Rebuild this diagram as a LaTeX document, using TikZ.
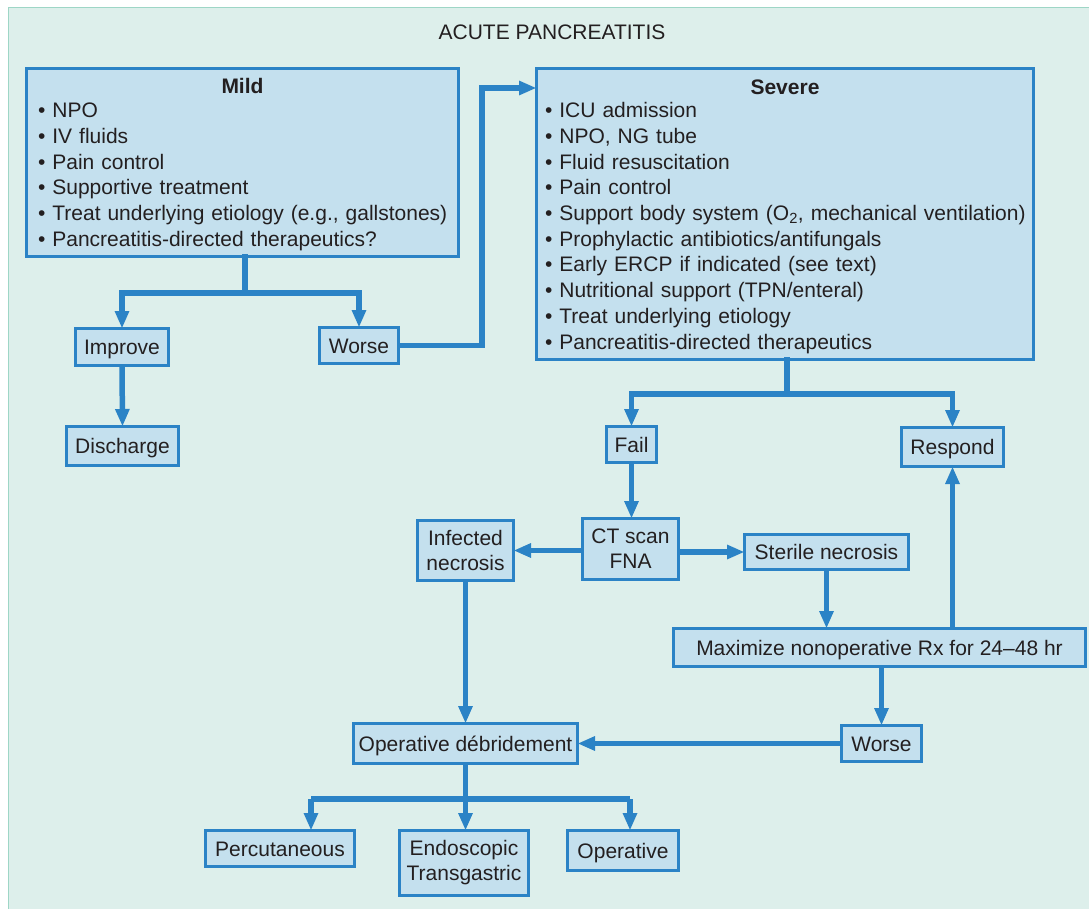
\documentclass[tikz,border=0pt]{standalone}
\usepackage{fontspec}
\setmainfont{Liberation Sans}
\usetikzlibrary{arrows.meta}
\definecolor{panelbg}{HTML}{DDEFEB}
\definecolor{panelline}{HTML}{9ED6C6}
\definecolor{boxfill}{HTML}{C4E0EE}
\definecolor{flow}{HTML}{2B83C6}
\definecolor{ink}{HTML}{231F20}
% one unbreakable bullet line
\newcommand{\bul}[1]{\mbox{• #1}}

\begin{document}
\begin{tikzpicture}[x=1pt,y=-1pt,
  txt/.style={font=\fontsize{21}{25}\selectfont, text=ink},
  box/.style={txt, draw=flow, line width=3pt, fill=boxfill, inner sep=0pt,
    outer sep=0pt, align=center},
  onebox/.style={box, text height=18pt, text depth=3pt},
  bigbox/.style={box, font=\fontsize{21}{25.7}\selectfont, align=left,
    anchor=north west},
  link/.style={draw=flow, line width=5.5pt},
  arr/.style={link, -{Triangle[width=13.5pt,length=17.5pt]}},
]
\useasboundingbox (0,0) rectangle (1089,909);
\clip (0,0) rectangle (1089,909);
\fill[white] (0,0) rectangle (1089,909);
% tinted panel behind the whole chart
\draw[panelline, line width=1.5pt, fill=panelbg] (8.5,7.5) rectangle (1100,920);

\node[txt] (title) at (552,32) {ACUTE PANCREATITIS};

% treatment boxes
\node[bigbox, text width=409pt, inner xsep=11.5pt, minimum height=188pt]
  (mild) at (26.5,68.5) {%
  \makebox[\linewidth]{\rule{0pt}{19.5pt}\textbf{Mild}}\\[-2pt]
  \bul{NPO}\\
  \bul{IV fluids}\\
  \bul{Pain control}\\
  \bul{Supportive treatment}\\
  \bul{Treat underlying etiology (e.g., gallstones)}\\
  \bul{Pancreatitis-directed therapeutics?}};

\node[bigbox, text width=480pt, inner xsep=8.5pt, minimum height=291pt]
  (severe) at (536.5,68.5) {%
  \makebox[\linewidth]{\rule{0pt}{19.5pt}\textbf{Severe}}\\[-2pt]
  \bul{ICU admission}\\
  \bul{NPO, NG tube}\\
  \bul{Fluid resuscitation}\\
  \bul{Pain control}\\
  \bul{Support body system (O\textsubscript{2}, mechanical ventilation)}\\
  \bul{Prophylactic antibiotics/antifungals}\\
  \bul{Early ERCP if indicated (see text)}\\
  \bul{Nutritional support (TPN/enteral)}\\
  \bul{Treat underlying etiology}\\
  \bul{Pancreatitis-directed therapeutics}};

% outcome boxes
\node[onebox, minimum width=93pt,  minimum height=37pt] (improve)  at (122,347)     {Improve};
\node[onebox, minimum width=79pt,  minimum height=36pt] (worseA)   at (359,345.5)   {Worse};
\node[onebox, minimum width=112pt, minimum height=39pt] (discharge) at (122.5,446)  {Discharge};
\node[onebox, minimum width=50pt,  minimum height=36pt] (fail)     at (631.5,444.5) {Fail};
\node[onebox, minimum width=102pt, minimum height=39pt] (respond)  at (952.5,447)   {Respond};
\node[box,    minimum width=96pt,  minimum height=61pt] (ct)       at (630.5,549)   {CT scan\\FNA};
\node[onebox, minimum width=164pt, minimum height=35pt] (sterile)  at (826.5,552)   {Sterile necrosis};
\node[box,    minimum width=96pt,  minimum height=60pt] (infected) at (465.5,550.5) {Infected\\necrosis};
\node[onebox, minimum width=412pt, minimum height=38pt] (maxrx)    at (879.5,647.5) {Maximize nonoperative Rx for 24–48 hr};
\node[onebox, minimum width=80pt,  minimum height=36pt] (worseB)   at (881.5,743.5) {Worse};
\node[onebox, minimum width=224pt, minimum height=40pt] (opdeb)    at (465.5,743.5) {Operative débridement};
\node[onebox, minimum width=149pt, minimum height=36pt] (perc)     at (280,848.5)   {Percutaneous};
\node[box,    minimum width=129pt, minimum height=65pt] (endo)     at (464,863)     {Endoscopic\\Transgastric};
\node[onebox, minimum width=111pt, minimum height=40pt] (operative) at (623,850.5)  {Operative};

% junction points
\coordinate (jm) at (245,293);
\coordinate (jw) at (482,88);
\coordinate (js) at (787,394);
\coordinate (bp) at (311,799);
\coordinate (bo) at (630,799);

% mild branch
\draw[link, line cap=rect] (mild.south -| jm) -- (jm);
\draw[arr] (jm) -| (improve.north);
\draw[arr] (jm) -| (worseA.north);
\draw[arr] (improve.south) -- (discharge.north);
\draw[arr] (worseA.east) -| (jw) -- (jw -| severe.west);

% severe branch
\draw[link, line cap=rect] (severe.south -| js) -- (js);
\draw[arr] (js) -| (fail.north);
\draw[arr] (js) -| (respond.north);
\draw[arr] (fail.south) -- (fail.south |- ct.north);
\draw[arr] (ct.west |- infected.east) -- (infected.east);
\draw[arr] (sterile.west -| ct.east) -- (sterile.west);
\draw[arr] (sterile.south) -- (sterile.south |- maxrx.north);
\draw[arr] (respond.south |- maxrx.north) -- (respond.south);
\draw[arr] (worseB.north |- maxrx.south) -- (worseB.north);
\draw[arr] (worseB.west) -- (worseB.west -| opdeb.east);
\draw[arr] (infected.south) -- (infected.south |- opdeb.north);

% debridement options
\draw[arr] (opdeb.south) -- (opdeb.south |- endo.north);
\draw[link] (bp) -- (bo);
\draw[arr] (bp) -- (bp |- perc.north);
\draw[arr] (bo) -- (bo |- operative.north);
\end{tikzpicture}
\end{document}
